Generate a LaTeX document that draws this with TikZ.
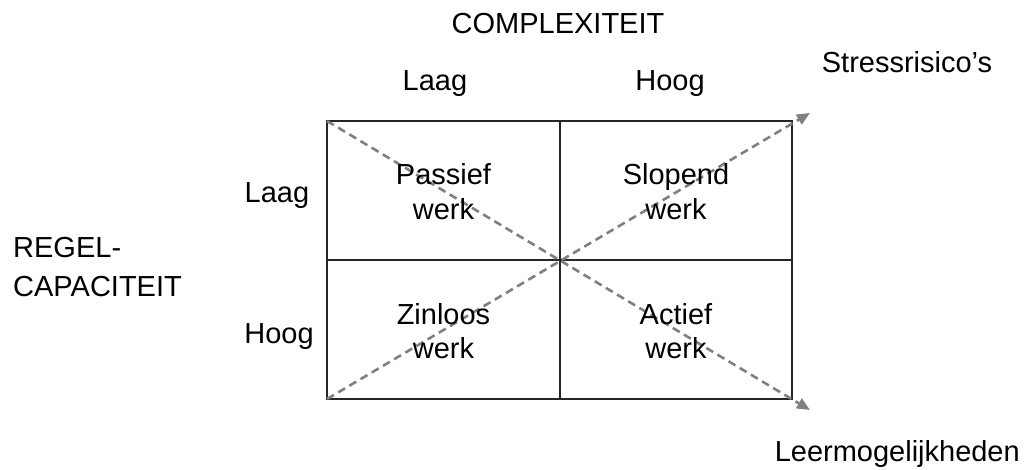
\documentclass[tikz,border=0pt]{standalone}
\usepackage{fontspec}
\setmainfont{Liberation Sans}
\usetikzlibrary{arrows.meta}
\begin{document}
\begin{tikzpicture}[x=1pt,y=-1pt,
  lbl/.style={font=\fontsize{29}{35}\selectfont, inner sep=0pt, anchor=base},
  gridline/.style={line width=1.4pt, draw=black!85},
  diag/.style={line width=2.6pt, draw=gray, dash pattern=on 8pt off 5pt,
    -{Triangle[length=13pt,width=11pt]}}]
\useasboundingbox (0,0) rectangle (1036,470);
% grid
\coordinate (tl) at (327,121);
\coordinate (tr) at (792,121);
\coordinate (bl) at (327,399);
\coordinate (br) at (792,399);
\coordinate (tm) at (560,121);
\coordinate (bm) at (560,399);
\coordinate (ml) at (327,260);
\coordinate (mr) at (792,260);
\coordinate (ta) at (810,113);
\coordinate (ba) at (810,410);
\draw[gridline] (tl) rectangle (br);
\draw[gridline] (tm) -- (bm);
\draw[gridline] (ml) -- (mr);
\draw[diag] (tl) -- (ba);
\draw[diag] (bl) -- (ta);
% labels
\node[lbl] (cx) at (558,34) {COMPLEXITEIT};
\node[lbl] (cl) at (435,91) {Laag};
\node[lbl] (ch) at (670,91) {Hoog};
\node[lbl] (sr) at (907,73) {Stressrisico’s};
\node[lbl] (rl) at (277,203) {Laag};
\node[lbl] (rh) at (279,343) {Hoog};
\node[lbl, anchor=base west] (rg1) at (13,258) {REGEL-};
\node[lbl, anchor=base west] (rg2) at (13,297) {CAPACITEIT};
\node[lbl, anchor=base east] (lm) at (1020,461) {Leermogelijkheden};
% cells
\node[lbl] (pa1) at (443.5,185) {Passief};
\node[lbl] (pa2) at (443.5,220) {werk};
\node[lbl] (sl1) at (676,185) {Slopend};
\node[lbl] (sl2) at (676,220) {werk};
\node[lbl] (zi1) at (443.5,324) {Zinloos};
\node[lbl] (zi2) at (443.5,358) {werk};
\node[lbl] (ac1) at (676,324) {Actief};
\node[lbl] (ac2) at (676,358) {werk};
\end{tikzpicture}
\end{document}
